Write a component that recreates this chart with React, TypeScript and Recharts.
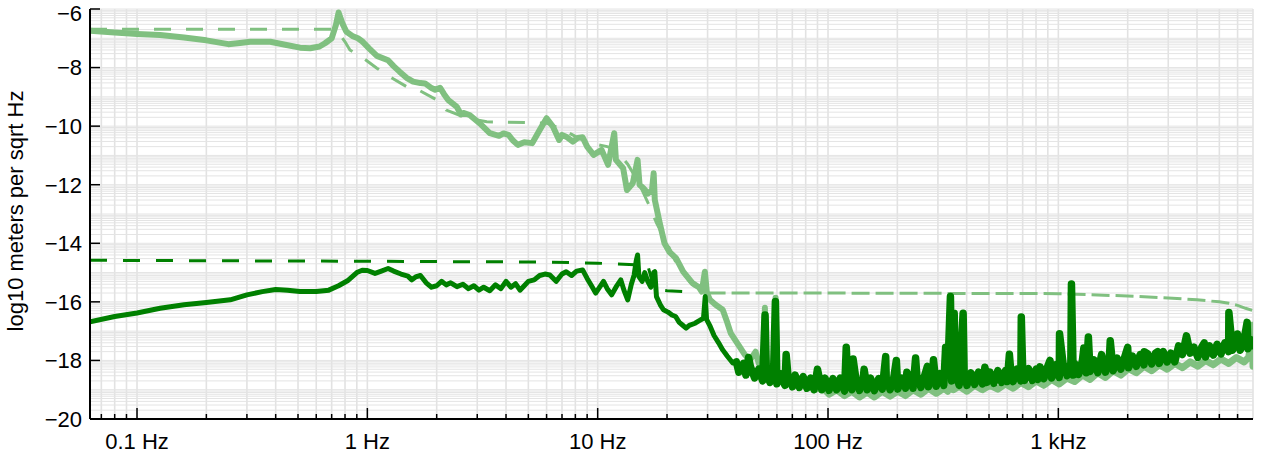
import React from 'react';
import { ComposedChart, Line, XAxis, YAxis, CartesianGrid } from 'recharts';

// ---------- axes ----------
const X_MAJOR = [0.1, 1, 10, 100, 1000];
const X_LABELS = ['0.1 Hz', '1 Hz', '10 Hz', '100 Hz', '1 kHz'];
const X_MINOR = [
  0.07, 0.08, 0.09,
  0.2, 0.3, 0.4, 0.5, 0.6, 0.7, 0.8, 0.9,
  2, 3, 4, 5, 6, 7, 8, 9,
  20, 30, 40, 50, 60, 70, 80, 90,
  200, 300, 400, 500, 600, 700, 800, 900,
  2000, 3000, 4000, 5000, 6000,
];
const X_DOMAIN = [0.0625, 7000];
const Y_MAJOR = [-20, -18, -16, -14, -12, -10, -8, -6];
const Y_DECADES = [-20, -19, -18, -17, -16, -15, -14, -13, -12, -11, -10, -9, -8, -7];
const Y_MINOR_K = [2, 3, 4, 5, 6, 7, 8, 9];
const Y_DOMAIN = [-20, -6];

// ---------- series: [frequency Hz, log10 m/sqrt(Hz)] ----------
const LIGHT_LOW = [
  [0.0625, -6.74], [0.08, -6.8], [0.1, -6.85], [0.126, -6.89], [0.16, -6.97], [0.2, -7.07],
  [0.249, -7.2], [0.28, -7.16], [0.31, -7.12], [0.379, -7.12], [0.44, -7.22], [0.51, -7.32],
  [0.565, -7.34], [0.62, -7.28], [0.655, -7.17], [0.7, -7.0], [0.73, -6.55], [0.75, -6.12],
  [0.78, -6.5], [0.81, -6.77], [0.86, -6.92], [0.91, -7.0], [0.955, -7.12], [1.02, -7.35],
  [1.1, -7.6], [1.23, -7.75], [1.3, -7.95], [1.38, -8.14], [1.48, -8.35], [1.58, -8.48],
  [1.7, -8.53], [1.78, -8.54], [1.9, -8.7], [1.97, -8.76], [2.07, -8.69], [2.15, -8.9],
  [2.24, -9.1], [2.44, -9.33], [2.55, -9.6], [2.61, -9.55], [2.78, -9.62], [3.07, -9.9],
  [3.4, -10.24], [3.73, -10.33], [3.9, -10.25], [4.1, -10.3], [4.3, -10.5], [4.5, -10.64],
  [4.8, -10.55], [5.2, -10.58], [5.6, -10.13], [6.0, -9.73], [6.4, -10.02], [6.8, -10.47],
  [7.0, -10.3], [7.3, -10.36], [7.8, -10.53], [8.2, -10.4], [8.6, -10.38], [9.0, -10.7],
  [9.6, -10.98], [10.4, -10.81], [11.1, -11.32], [11.8, -10.24], [12.0, -11.15], [12.9, -11.44],
  [13.4, -12.18], [14.2, -11.95], [14.9, -11.15], [15.2, -12.0], [15.8, -12.12], [16.5, -12.3],
  [17.2, -12.2], [17.5, -11.61], [17.7, -12.52], [18.6, -13.31], [19.5, -14.0], [20.5, -14.3],
  [21.9, -14.51], [23.5, -14.97], [25.8, -15.36], [27.5, -15.5], [28.3, -15.65], [29.2, -14.97],
  [29.8, -15.7], [30.7, -15.93], [32.5, -16.1], [34.9, -16.27], [36.5, -16.7], [37.8, -17.07],
  [39.5, -17.3], [41.3, -17.53], [43.5, -17.8], [45.9, -17.98], [48.5, -17.7], [50, -18.1],
  [52.5, -18.25], [53.2, -16.2], [54, -18.3], [56, -18.35], [58.5, -18.4], [59.2, -15.86],
  [60, -18.5],
];
const LIGHT_HIGH = [
  [60, -18.5], [65, -18.7], [70, -18.6], [75, -18.85], [81, -18.75], [87, -19.0], [94, -18.9],
  [101, -19.15], [109, -19.0], [118, -19.2], [127, -19.05], [137, -19.25], [148, -19.08],
  [159, -19.25], [172, -19.05], [186, -19.22], [201, -19.05], [217, -19.2], [234, -19.0],
  [253, -19.15], [273, -18.95], [295, -19.12], [318, -18.95], [331, -19.05], [340, -18.7],
  [350, -19.0], [371, -18.88], [401, -19.05], [433, -18.85], [468, -19.0], [505, -18.85],
  [546, -18.98], [589, -18.8], [636, -18.95], [687, -18.75], [742, -18.9], [801, -18.7],
  [865, -18.85], [935, -18.65], [1009, -18.8], [1090, -18.6], [1177, -18.72], [1272, -18.5],
  [1373, -18.65], [1483, -18.42], [1602, -18.58], [1730, -18.35], [1868, -18.5], [2018, -18.28],
  [2179, -18.42], [2354, -18.2], [2542, -18.35], [2745, -18.15], [2965, -18.3], [3202, -18.1],
  [3458, -18.25], [3735, -18.05], [4033, -18.2], [4356, -18.0], [4705, -18.15], [5081, -17.95],
  [5487, -18.1], [5926, -17.9], [6400, -18.05], [6700, -17.9], [6900, -17.3], [6950, -16.8],
  [7000, -18.2],
];

const DARK_LOW = [
  [0.0625, -16.68], [0.08, -16.5], [0.1, -16.38], [0.126, -16.22], [0.16, -16.1], [0.2, -16.02],
  [0.254, -15.93], [0.3, -15.76], [0.35, -15.65], [0.4, -15.58], [0.45, -15.6], [0.51, -15.65],
  [0.6, -15.65], [0.68, -15.6], [0.75, -15.45], [0.82, -15.28], [0.9, -15.0], [0.95, -14.92],
  [1.0, -14.93], [1.08, -15.03], [1.15, -14.95], [1.23, -14.86], [1.3, -14.95], [1.4, -15.05],
  [1.5, -15.12], [1.56, -15.25], [1.62, -15.15], [1.7, -15.1], [1.8, -15.35], [1.9, -15.5],
  [2.0, -15.45], [2.1, -15.3], [2.2, -15.42], [2.3, -15.35], [2.45, -15.48], [2.6, -15.4],
  [2.75, -15.55], [2.9, -15.45], [3.05, -15.6], [3.2, -15.5], [3.4, -15.62], [3.6, -15.42],
  [3.8, -15.55], [4.0, -15.3], [4.2, -15.5], [4.4, -15.38], [4.6, -15.6], [4.8, -15.45],
  [5.0, -15.3], [5.3, -15.25], [5.6, -15.1], [5.9, -15.05], [6.2, -15.08], [6.6, -15.3],
  [7.0, -15.05], [7.3, -14.97], [7.7, -15.1], [8.1, -14.95], [8.6, -14.91], [9.0, -15.2],
  [9.4, -15.45], [9.8, -15.7], [10.2, -15.5], [10.6, -15.3], [11.0, -15.55], [11.5, -15.76],
  [12.0, -15.5], [12.6, -15.25], [13.0, -15.6], [13.5, -15.93], [14.0, -15.4], [14.4, -15.08],
  [14.7, -14.6], [14.9, -14.4], [15.1, -15.14], [15.6, -15.3], [16.0, -15.0], [16.5, -15.3],
  [17.0, -15.5], [17.5, -15.0], [17.7, -14.97], [18.0, -15.82], [18.7, -16.1], [19.3, -16.27],
  [20.2, -16.35], [21.0, -16.45], [21.8, -16.5], [22.6, -16.7], [23.4, -16.8], [24.2, -16.9],
  [25.0, -16.8], [26.5, -16.73], [27.5, -16.65], [28.8, -16.56], [29.3, -15.82], [29.7, -16.6],
  [30.8, -16.84], [32, -17.15], [33.5, -17.4], [34.9, -17.64], [36.5, -17.85], [38.6, -18.09],
  [40, -18.05],
];
const DARK_HIGH = [
  [40, -18.05], [41, -18.4], [43, -18.1], [44, -18.5], [45.2, -17.9], [46, -18.2], [48, -18.6],
  [50, -18.3], [52, -18.7], [53.3, -16.45], [54, -18.4], [56, -18.75], [58, -18.45], [59.1, -15.99],
  [60, -18.8], [62, -18.45], [65, -18.85], [65.8, -17.8], [67, -18.5], [70, -18.9], [72, -18.5],
  [75, -18.92], [78, -18.55], [81, -18.95], [84, -18.6], [87, -19.0], [90, -18.3], [94, -19.0],
  [97, -18.6], [101, -19.02], [105, -18.62], [109, -19.0], [113, -18.6], [118, -19.05],
  [120, -17.55], [122, -18.65], [127, -19.0], [128.5, -17.95], [132, -18.6], [137, -19.02],
  [142, -18.62], [143.5, -18.3], [148, -19.0], [153, -18.6], [159, -19.03], [166, -18.62],
  [172, -18.98], [178, -17.87], [179, -18.6], [186, -19.0], [193, -18.58], [198, -18.0],
  [201, -18.98], [209, -18.6], [217, -18.95], [220, -18.4], [225, -18.55], [234, -18.95],
  [240, -17.92], [243, -18.5], [253, -18.92], [263, -18.5], [270, -18.2], [273, -18.9],
  [284, -18.5], [287, -17.98], [295, -18.88], [306, -18.45], [318, -18.85], [324, -17.55],
  [331, -18.45], [340, -15.82], [344, -18.7], [353, -16.39], [357, -18.4], [371, -18.85],
  [386, -16.39], [390, -18.42], [401, -18.85], [417, -18.42], [433, -18.82], [450, -18.4],
  [468, -18.8], [480, -18.23], [490, -18.75], [505, -18.4], [525, -18.78], [546, -18.35],
  [567, -18.75], [589, -18.35], [600, -18.72], [613, -17.79], [625, -18.6], [636, -18.72],
  [661, -18.3], [687, -18.7], [690.5, -16.52], [700, -18.3], [714, -18.68], [742, -18.28],
  [771, -18.68], [801, -18.3], [815, -18.65], [833, -18.22], [865, -18.62], [899, -18.2],
  [920, -18.0], [935, -18.6], [971, -18.15], [1009, -18.58], [1012, -17.09], [1049, -18.12],
  [1090, -18.52], [1133, -18.08], [1140, -15.39], [1160, -18.5], [1177, -18.1], [1224, -18.48],
  [1272, -18.0], [1290, -17.58], [1321, -18.42], [1350, -17.2], [1373, -18.38], [1427, -17.98],
  [1483, -18.42], [1541, -17.8], [1602, -18.4], [1665, -17.95], [1680, -17.33], [1730, -18.35],
  [1798, -17.92], [1868, -18.3], [1942, -17.88], [2000, -17.55], [2018, -18.25], [2097, -17.85],
  [2179, -18.2], [2265, -17.8], [2354, -18.15], [2360, -17.7], [2446, -17.78], [2542, -18.12],
  [2642, -17.75], [2700, -17.7], [2745, -18.1], [2853, -17.7], [2965, -18.05], [3081, -17.75],
  [3202, -18.05], [3328, -17.5], [3458, -17.8], [3600, -17.16], [3735, -17.75], [3881, -17.55],
  [4033, -17.9], [4192, -17.55], [4300, -17.4], [4356, -17.88], [4527, -17.5], [4705, -17.82],
  [4889, -17.45], [5081, -17.78], [5280, -17.4], [5487, -17.7], [5500, -16.36], [5703, -17.65],
  [5926, -17.35], [6000, -17.1], [6159, -17.65], [6400, -17.3], [6600, -16.7], [6651, -17.6],
  [6912, -17.3], [7000, -17.5],
];

const LIGHT_DASH_LOW = [
  [0.0625, -6.69], [0.7, -6.69], [0.75, -6.82], [0.8, -7.12], [0.84, -7.4], [0.96, -7.68],
  [1.1, -8.02], [1.25, -8.31], [1.48, -8.65], [1.69, -8.79], [2.0, -9.1], [2.2, -9.45],
  [2.5, -9.62], [3.0, -9.79], [3.3, -9.85], [5.0, -9.88], [6.0, -9.9], [7.0, -10.1],
  [8.0, -10.35], [9.2, -10.58], [11.0, -10.7], [12.0, -10.8], [13.5, -11.3], [15, -11.9],
  [16.5, -12.6], [18, -13.3], [20, -14.0], [22, -14.7], [25, -15.3], [28, -15.65], [30, -15.7],
];
const LIGHT_DASH_HIGH = [
  [30, -15.7], [100, -15.7], [1000, -15.72], [2000, -15.8], [3000, -15.87], [4000, -15.93],
  [5000, -16.0], [5500, -16.05], [6000, -16.12], [6500, -16.22], [7000, -16.3],
];
const DARK_DASH = [
  [0.0625, -14.58], [1.5, -14.62], [6, -14.64], [10, -14.68], [16.5, -14.75], [17.6, -15.58],
  [20, -15.62], [27, -15.68],
];

// ---------- styling ----------
const LIGHT = '#80c080';
const DARK = '#008000';
const FONT = '"Liberation Sans", Arial, Helvetica, sans-serif';

const toPts = (arr: number[][]) => arr.map(([f, v]) => ({ f, v }));

const X_TICKS = [...X_MINOR, ...X_MAJOR].sort((a, b) => a - b);
const Y_GRID = [
  ...Y_DECADES.flatMap((m) => [m, ...Y_MINOR_K.map((k) => m + Math.log10(k))]),
  -6,
].sort((a, b) => a - b);

const XTick = (props: any) => {
  const { x, y, payload, side } = props;
  const v = payload.value;
  const idx = X_MAJOR.indexOf(v);
  const major = idx >= 0;
  const len = major ? 11 : 5;
  const y2 = side === 'top' ? y + len : y - len;
  return (
    <g>
      <line x1={x} x2={x} y1={y} y2={y2} stroke="#000" strokeWidth={1.5} />
      {major && side !== 'top' && (
        <text x={x} y={y + 30} textAnchor="middle" fontSize={22} fontFamily={FONT} fill="#000">
          {X_LABELS[idx]}
        </text>
      )}
    </g>
  );
};

const YTick = (props: any) => {
  const { x, y, payload, side } = props;
  const v = payload.value;
  if (!Y_MAJOR.some((m) => Math.abs(m - v) < 1e-9)) return <g />;
  const x2 = side === 'right' ? x - 10 : x + 10;
  const isTop = Math.abs(v - Y_DOMAIN[1]) < 1e-9;
  return (
    <g>
      <line x1={x} x2={x2} y1={y} y2={y} stroke="#000" strokeWidth={1.5} />
      {side !== 'right' && (
        <text x={x - 8} y={y + (isTop ? 4 : 0)} dy="0.36em" textAnchor="end" fontSize={22} fontFamily={FONT} fill="#000">
          {'\u2212' + Math.abs(Math.round(v))}
        </text>
      )}
    </g>
  );
};

const YLabel = () => (
  <text
    x={22.5}
    y={211}
    transform="rotate(-90, 22.5, 211)"
    textAnchor="middle"
    fontSize={22}
    fontFamily={FONT}
    fill="#000"
  >
    log10 meters per sqrt Hz
  </text>
);

const axisLine = { stroke: '#000', strokeWidth: 2 };

export default function App() {
  return (
    <div style={{ position: 'absolute', left: 0, top: 0, width: 1264, height: 457, background: '#fff' }}>
      <ComposedChart width={1264} height={457} margin={{ top: 9, right: 11, bottom: 0, left: 0 }}>
        <CartesianGrid xAxisId="b" yAxisId="l" horizontal={false} stroke="#e2e2e2" strokeWidth={1.6} />
        <CartesianGrid xAxisId="b" yAxisId="l" vertical={false} stroke="#e4e4e4" strokeWidth={1} />
        <XAxis
          xAxisId="b"
          dataKey="f"
          type="number"
          scale="log"
          domain={X_DOMAIN}
          allowDataOverflow
          ticks={X_TICKS}
          interval={0}
          tick={(p: any) => <XTick {...p} side="bottom" />}
          tickLine={false}
          tickSize={0}
          tickMargin={0}
          height={38}
          axisLine={axisLine}
        />
        <XAxis
          xAxisId="t"
          orientation="top"
          dataKey="f"
          type="number"
          scale="log"
          domain={X_DOMAIN}
          allowDataOverflow
          ticks={X_TICKS}
          interval={0}
          tick={(p: any) => <XTick {...p} side="top" />}
          tickLine={false}
          tickSize={0}
          tickMargin={0}
          height={0}
          axisLine={axisLine}
        />
        <YAxis
          yAxisId="l"
          type="number"
          domain={Y_DOMAIN}
          allowDataOverflow
          ticks={Y_GRID}
          interval={0}
          tick={(p: any) => <YTick {...p} side="left" />}
          tickLine={false}
          tickSize={0}
          tickMargin={0}
          width={90}
          axisLine={axisLine}
          label={<YLabel />}
        />
        <YAxis
          yAxisId="r"
          orientation="right"
          type="number"
          domain={Y_DOMAIN}
          allowDataOverflow
          ticks={Y_MAJOR}
          interval={0}
          tick={(p: any) => <YTick {...p} side="right" />}
          tickLine={false}
          tickSize={0}
          tickMargin={0}
          width={0}
          axisLine={axisLine}
        />
        <Line data={toPts(LIGHT_LOW)} dataKey="v" xAxisId="b" yAxisId="l" type="linear"
          stroke={LIGHT} strokeWidth={6} strokeLinejoin="round" strokeLinecap="round" dot={false} activeDot={false} isAnimationActive={false} />
        <Line data={toPts(LIGHT_HIGH)} dataKey="v" xAxisId="b" yAxisId="l" type="linear"
          stroke={LIGHT} strokeWidth={7} strokeLinejoin="round" strokeLinecap="round" dot={false} activeDot={false} isAnimationActive={false} />
        <Line data={toPts(LIGHT_DASH_LOW)} dataKey="v" xAxisId="b" yAxisId="l" type="linear"
          stroke={LIGHT} strokeWidth={3} strokeDasharray="17 15" dot={false} activeDot={false} isAnimationActive={false} />
        <Line data={toPts(LIGHT_DASH_HIGH)} dataKey="v" xAxisId="b" yAxisId="l" type="linear"
          stroke={LIGHT} strokeWidth={3} strokeDasharray="18 6" dot={false} activeDot={false} isAnimationActive={false} />
        <Line data={toPts(DARK_LOW)} dataKey="v" xAxisId="b" yAxisId="l" type="linear"
          stroke={DARK} strokeWidth={5} strokeLinejoin="round" strokeLinecap="round" dot={false} activeDot={false} isAnimationActive={false} />
        <Line data={toPts(DARK_HIGH)} dataKey="v" xAxisId="b" yAxisId="l" type="linear"
          stroke={DARK} strokeWidth={7.5} strokeLinejoin="round" strokeLinecap="round" dot={false} activeDot={false} isAnimationActive={false} />
        <Line data={toPts(DARK_DASH)} dataKey="v" xAxisId="b" yAxisId="l" type="linear"
          stroke={DARK} strokeWidth={3} strokeDasharray="17 16" dot={false} activeDot={false} isAnimationActive={false} />
      </ComposedChart>
    </div>
  );
}
